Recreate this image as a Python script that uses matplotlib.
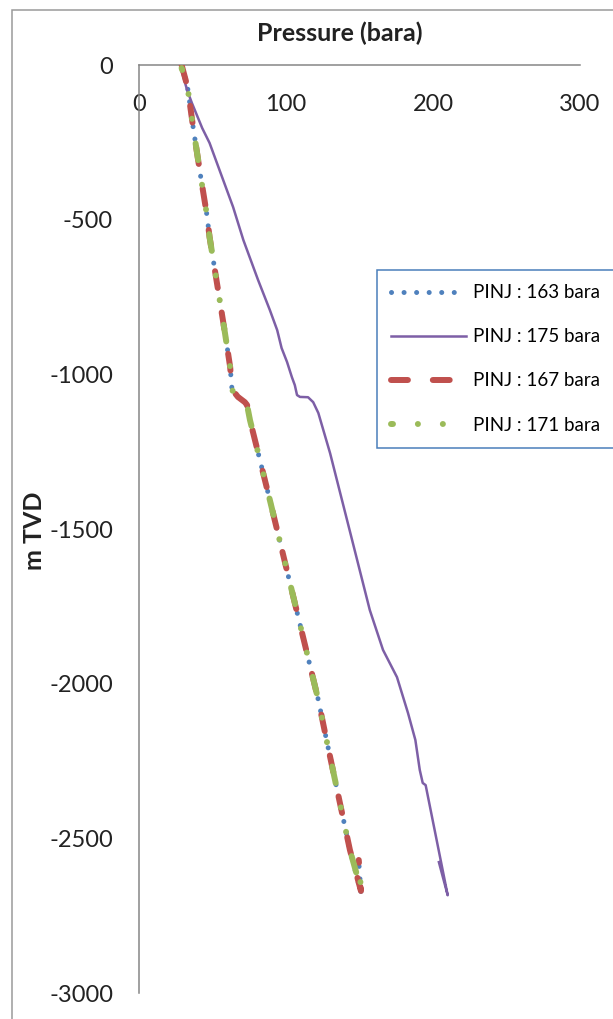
import matplotlib
matplotlib.use("Agg")
import matplotlib.pyplot as plt
from matplotlib.patches import Rectangle

plt.rcParams["font.family"] = ["Lato", "DejaVu Sans"]
plt.rcParams["axes.unicode_minus"] = False

# well pressure profiles: pressure (bara) against depth (m TVD, negative down)
P_163 = [29, 33, 37, 42, 46, 48, 58.5, 62, 63.3, 65.3, 67.3, 72, 73.5,
         75.5, 89, 122, 128, 143.5, 151, 149.5]
Z_163 = [0, -71, -207, -362, -479, -556, -867, -976, -1051, -1061, -1073,
         -1090, -1099, -1148, -1406, -2053, -2192, -2538, -2677, -2575]

P_175 = [29, 33, 36, 43, 48, 64, 71, 81, 89, 94, 97, 100.7, 104, 106,
         107.5, 109.5, 115, 118.5, 122, 130, 143.5, 157, 166, 175.5, 183,
         188, 191, 193, 195, 210, 204]
Z_175 = [-20, -85, -123, -204, -252, -459, -566, -695, -792, -857, -915,
         -960, -1009, -1035, -1067, -1073, -1074, -1090, -1125, -1255,
         -1508, -1762, -1891, -1979, -2095, -2182, -2279, -2321, -2328,
         -2684, -2577]

P_167 = [29, 33, 37, 42, 46, 48, 58.5, 62, 63.3, 65.3, 67.3, 72, 73.5,
         75.5, 89, 122, 128, 143.5, 151, 149.5]
Z_167 = [0, -71, -207, -362, -479, -556, -867, -976, -1051, -1061, -1073,
         -1090, -1099, -1148, -1406, -2053, -2192, -2538, -2670, -2570]

P_171 = [29, 33, 37, 42, 46, 48, 58.5, 62, 63.3, 65.3, 67.3, 72, 73.5,
         75.5, 89, 122, 128, 143.5, 151, 149.5]
Z_171 = [-10, -71, -207, -362, -479, -556, -867, -976, -1051, -1061, -1073,
         -1090, -1099, -1148, -1406, -2053, -2192, -2538, -2665, -2570]

X_TICKS = [0, 100, 200, 300]
Y_TICKS = [0, -500, -1000, -1500, -2000, -2500, -3000]

W, H = 613, 1019
fig = plt.figure(figsize=(W / 100, H / 100), dpi=100)

# chart-area border, only left and top edges fall inside the image
fig.patches.append(Rectangle((12 / W, -0.1), 1.2, 1.1 - 10 / H,
                             transform=fig.transFigure, fill=False,
                             edgecolor="#9a9a9a", lw=1.1))

ax = fig.add_axes([139 / W, 1 - 993 / H, (580 - 139) / W, (993 - 65) / H])

ax.plot(P_163, Z_163, color="#4f81bd", lw=3.6, ls=(0, (0.01, 2.5)),
        dash_capstyle="round", label="PINJ : 163 bara", zorder=2)
ax.plot(P_175, Z_175, color="#7d5fa6", lw=1.8, label="PINJ : 175 bara",
        zorder=3)
ax.plot(P_167, Z_167, color="#c0504d", lw=4.3, ls=(0, (2.83, 4.17)),
        dash_capstyle="round", label="PINJ : 167 bara", zorder=4)
ax.plot(P_171, Z_171, color="#9bbb59", lw=4.3,
        ls=(2.5, (2.83, 4.17, 0.01, 4.17, 0.01, 4.17)),
        dash_capstyle="round", label="PINJ : 171 bara", zorder=5)

ax.set_xlim(0, 300)
ax.set_ylim(-3000, 0)
ax.set_xticks(X_TICKS)
ax.set_yticks(Y_TICKS)

for side in ("right", "bottom"):
    ax.spines[side].set_visible(False)
for side in ("top", "left"):
    ax.spines[side].set_color("#868686")
    ax.spines[side].set_linewidth(1.1)

ax.xaxis.tick_top()
ax.tick_params(axis="x", length=0, pad=-36, labelsize=17, colors="#222222")
ax.tick_params(axis="y", length=0, pad=18.7, labelsize=17, colors="#222222")

ax.xaxis.set_label_position("top")
ax.set_xlabel("Pressure (bara)", fontsize=18, fontweight="bold", color="#222222")
ax.xaxis.set_label_coords((340 - 139) / 441, (993 - 33) / 928)
ax.xaxis.label.set_va("center")

ax.set_ylabel("m TVD", fontsize=18, fontweight="bold", color="#222222")
ax.yaxis.set_label_coords((35 - 139) / 441, (993 - 531) / 928)
ax.yaxis.label.set_va("center")

leg = ax.legend(loc="upper left", bbox_to_anchor=(377 / W, 1 - 270 / H),
                bbox_transform=fig.transFigure, fontsize=13.5,
                frameon=True, fancybox=False, framealpha=1,
                edgecolor="#4a7ebb", borderaxespad=0, borderpad=0.75,
                handlelength=4.0, handletextpad=0.35, labelspacing=1.45)
leg.get_frame().set_linewidth(1.1)

fig.savefig("out.png", dpi=100)
